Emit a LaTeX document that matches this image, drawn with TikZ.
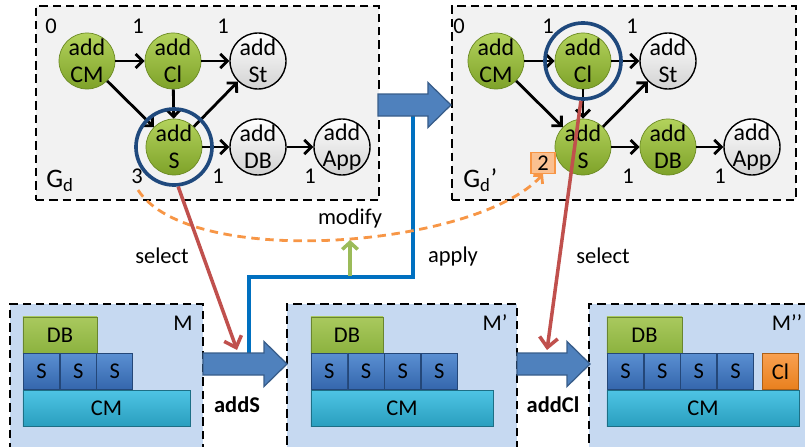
\documentclass[tikz,border=0pt]{standalone}
\usepackage{fontspec}
\setmainfont{Carlito}
\usetikzlibrary{arrows.meta, positioning, fit, calc}
\definecolor{GraphBg}{HTML}{F2F2F2}
\definecolor{ModelBg}{HTML}{C6D9F1}
\definecolor{NodeGreenTop}{HTML}{B3D25C}
\definecolor{NodeGreenBot}{HTML}{7EA229}
\definecolor{NodeGray}{HTML}{D2D2D2}
\definecolor{RingBlue}{HTML}{1F497D}
\definecolor{ArrowBlue}{HTML}{4F81BD}
\definecolor{ArrowBlueDark}{HTML}{385D8A}
\definecolor{ApplyBlue}{HTML}{0070C0}
\definecolor{SelectRed}{HTML}{C0504D}
\definecolor{ModifyGreen}{HTML}{9BBB59}
\definecolor{CurveOrange}{HTML}{F79646}
\definecolor{TagOrange}{HTML}{FAC090}
\definecolor{DBTop}{HTML}{A9C95E}
\definecolor{DBBot}{HTML}{8CB23F}
\definecolor{STop}{HTML}{5A8FD2}
\definecolor{SBot}{HTML}{3466AC}
\definecolor{CMTop}{HTML}{4DC4E4}
\definecolor{CMBot}{HTML}{2A9EBE}
\definecolor{ClTop}{HTML}{F9A050}
\definecolor{ClBot}{HTML}{E8801E}

% block arrow from #1 to the tip #2 (same height)
\newcommand{\blockarrow}[2]{%
  \filldraw[barrow] ($(#1)+(0,-11)$) -- ($(#2)+(-23,-11)$) -- ($(#2)+(-23,-22.5)$)
    -- (#2) -- ($(#2)+(-23,22.5)$) -- ($(#2)+(-23,11)$) -- ($(#1)+(0,11)$) -- cycle;}

\begin{document}
\begin{tikzpicture}[x=0.025cm, y=-0.025cm,
    gbox/.style={draw, dash pattern=on 6pt off 3.5pt, line width=1.5pt, fill=GraphBg, inner sep=0pt},
    mbox/.style={gbox, fill=ModelBg},
    task/.style={circle, minimum size=1.4cm, inner sep=-3pt, align=center, font=\fontsize{17}{19}\selectfont},
    done/.style={task, top color=NodeGreenTop, bottom color=NodeGreenBot, draw=NodeGreenBot!85!black, line width=0.5pt},
    todo/.style={task, top color=white, bottom color=NodeGray, draw=black, line width=1pt},
    dep/.style={-{Straight Barb[length=5pt,width=10pt]}, line width=2pt},
    ring/.style={circle, draw=RingBlue, line width=2.6pt, minimum size=1.9cm},
    cnt/.style={font=\fontsize{16}{16}\selectfont, inner sep=0pt},
    gname/.style={anchor=base west, inner sep=0pt, font=\fontsize{19}{19}\selectfont},
    blk/.style={inner sep=0pt, minimum height=0.9cm, font=\fontsize{16}{16}\selectfont, line width=0.6pt},
    dbblk/.style={blk, top color=DBTop, bottom color=DBBot, draw=DBBot!75!black},
    sblk/.style={blk, minimum width=0.9cm, top color=STop, bottom color=SBot, draw=SBot!70!black},
    cmblk/.style={blk, top color=CMTop, bottom color=CMBot, draw=CMBot!70!black},
    clblk/.style={blk, minimum width=0.9cm, top color=ClTop, bottom color=ClBot, draw=ClBot!75!black},
    mname/.style={font=\fontsize{16}{16}\selectfont},
    barrow/.style={fill=ArrowBlue, draw=ArrowBlueDark, line width=0.9pt},
    sel/.style={draw=SelectRed, line width=2.5pt, -{Straight Barb[length=7pt,width=13pt]}},
    apply/.style={draw=ApplyBlue, line width=2.3pt},
    modify/.style={draw=ModifyGreen, line width=2.5pt, -{Straight Barb[length=5pt,width=11pt]}},
    trace/.style={draw=CurveOrange, line width=2pt, dash pattern=on 6pt off 4pt, -{Straight Barb[length=4pt,width=9pt]}},
    tag/.style={fill=TagOrange, draw=CurveOrange, line width=1pt, minimum width=0.6cm, minimum height=0.52cm, inner sep=0pt, font=\fontsize{16}{16}\selectfont},
    lbl/.style={font=\fontsize{16}{16}\selectfont},
    op/.style={font=\fontsize{16}{16}\selectfont\bfseries}
  ]
  \useasboundingbox (0,0) rectangle (805,447);

  % dependency graphs
  \node[gbox, fit={(36,6) (379,200)}] (gd) {};
  \node[gbox, fit={(452,6) (796,200)}] (gd2) {};

  \node[done] (ga-cm) at (87,61) {add\\CM};
  \node[done] (ga-cl) at (173,61) {add\\Cl};
  \node[todo] (ga-st) at (258,61) {add\\St};
  \node[done] (ga-s) at (174,147) {add\\S};
  \node[todo] (ga-db) at (258,147) {add\\DB};
  \node[todo] (ga-app) at (342,147) {add\\App};

  \node[done] (gb-cm) at (496,61) {add\\CM};
  \node[done] (gb-cl) at (583,61) {add\\Cl};
  \node[todo] (gb-st) at (668,61) {add\\St};
  \node[done] (gb-s) at (583,147) {add\\S};
  \node[done] (gb-db) at (668,147) {add\\DB};
  \node[todo] (gb-app) at (752,147) {add\\App};

  \foreach \g in {ga,gb} {
    \draw[dep] (\g-cm) -- (\g-cl);
    \draw[dep] (\g-cl) -- (\g-st);
    \draw[dep] (\g-cm) -- (\g-s);
    \draw[dep] (\g-cl) -- (\g-s);
    \draw[dep] (\g-s) -- (\g-st);
    \draw[dep] (\g-s) -- (\g-db);
    \draw[dep] (\g-db) -- (\g-app);
  }

  \foreach \x/\y/\n [count=\k] in {51/26/0, 138/26/1, 223/26/1, 137/176/3, 218/176/1, 310/176/1}
    \node[cnt] (ga-c\k) at (\x,\y) {\n};
  \foreach \x/\y/\n [count=\k] in {459/26/0, 548/26/1, 632/26/1, 628/176/1, 720/176/1}
    \node[cnt] (gb-c\k) at (\x,\y) {\n};

  \node[gname] (gd-name) at (46,187) {G\textsubscript{d}};
  \node[gname] (gd2-name) at (463,187) {G\textsubscript{d}’};
  \node[tag] (tag) at (543,163) {2};

  \node[ring] (ring1) at (ga-s) {};
  \node[ring] (ring2) at (gb-cl) {};

  % models
  \node[mbox, fit={(10,304) (203,460)}] (m1) {};
  \node[mname] (m1-name) at (183,323) {M};
  \node[dbblk, minimum width=1.85cm] (m1-db) at (60,335) {DB};
  \foreach \i in {0,1,2}
    \node[sblk] (m1-s\i) at (41.5+36.7*\i,371.5) {S};
  \node[cmblk, minimum width=4.175cm] (m1-cm) at (106.5,408.5) {CM};

  \node[mbox, fit={(287,304) (517,460)}] (m2) {};
  \node[mname] (m2-name) at (495,323) {M’};
  \node[dbblk, minimum width=1.8cm] (m2-db) at (347,335) {DB};
  \foreach \i in {0,...,3}
    \node[sblk] (m2-s\i) at (329.3+36.7*\i,371.5) {S};
  \node[cmblk, minimum width=4.55cm] (m2-cm) at (402,408.5) {CM};

  \node[mbox, fit={(589,304) (820,460)}] (m3) {};
  \node[mname] (m3-name) at (787,323) {M’’};
  \node[dbblk, minimum width=1.875cm] (m3-db) at (644.5,335) {DB};
  \foreach \i in {0,...,3}
    \node[sblk] (m3-s\i) at (625.5+36.7*\i,371.5) {S};
  \node[clblk] (m3-cl) at (780.5,371.5) {Cl};
  \node[cmblk, minimum width=4.8cm] (m3-cm) at (703,408.5) {CM};

  % apply / modify
  \coordinate (ap-top) at (413,116);
  \coordinate (ap-turn) at (249,277);
  \coordinate (ap-bot) at (249,353);
  \draw[apply] (ap-top) |- (ap-turn) -- (ap-bot);
  \coordinate (md-s) at (350,276);
  \coordinate (md-e) at (350,240);
  \draw[modify] (md-s) -- (md-e);
  \coordinate (tr-s) at (138,190);
  \draw[trace] (tr-s) .. controls (190,270) and (475,248) .. (tag.south);

  % block arrows
  \coordinate (ta-s) at ($(gd.east)+(-2,2)$);
  \coordinate (ta-e) at (gd2.west |- ta-s);
  \blockarrow{ta-s}{ta-e}
  \coordinate (ba-s) at (203,364);
  \coordinate (ba-e) at (287,364);
  \blockarrow{ba-s}{ba-e}
  \coordinate (bb-s) at (517,364);
  \coordinate (bb-e) at (590,364);
  \blockarrow{bb-s}{bb-e}

  % select
  \coordinate (sa-tip) at (237,350);
  \coordinate (sb-tip) at (547,350);
  \draw[sel] (ring1.-84) -- (sa-tip);
  \draw[sel] (ring2.-93) -- (sb-tip);

  \node[lbl] (l-sel1) at (162,256) {select};
  \node[lbl] (l-mod) at (350,219) {modify};
  \node[lbl] (l-app) at (453,256) {apply};
  \node[lbl] (l-sel2) at (603,256) {select};
  \node[op] (l-adds) at (237,405) {addS};
  \node[op] (l-addcl) at (553,405) {addCl};
\end{tikzpicture}
\end{document}
